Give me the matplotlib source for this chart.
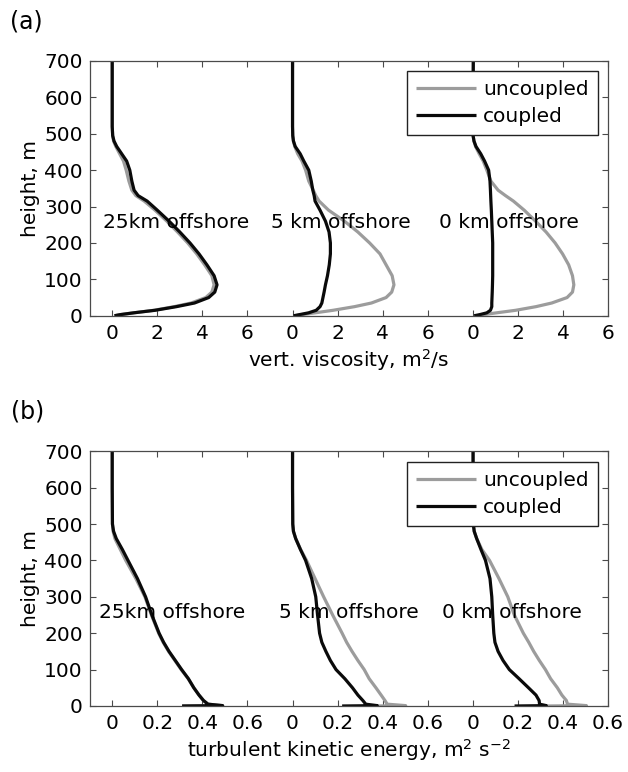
import numpy as np
import matplotlib
matplotlib.use("Agg")
import matplotlib.pyplot as plt

# ---------------- data ----------------
sites = ["25km offshore", "5 km offshore", "0 km offshore"]

# (a) vertical viscosity, m^2/s
height_a = [0, 3, 8, 15, 25, 35, 50, 65, 85, 110, 140, 170, 200, 230, 260,
            290, 315, 330, 345, 370, 400, 425, 445, 465, 480, 495, 520, 600, 700]
visc_unc_25 = [0.1, 0.35, 0.95, 1.85, 2.75, 3.5, 4.15, 4.42, 4.52, 4.42, 4.1, 3.75, 3.35, 2.9, 2.42,
               1.9, 1.42, 1.05, 0.87, 0.74, 0.62, 0.5, 0.33, 0.16, 0.06, 0.02, 0.0, 0.0, 0.0]
visc_cpl_25 = [0.1, 0.35, 0.95, 1.9, 2.85, 3.65, 4.28, 4.55, 4.65, 4.52, 4.2, 3.85, 3.45, 3.0, 2.52,
               2.0, 1.55, 1.15, 0.97, 0.87, 0.78, 0.64, 0.42, 0.2, 0.08, 0.02, 0.0, 0.0, 0.0]
visc_unc_5 = [0.12, 0.4, 1.0, 1.8, 2.75, 3.5, 4.15, 4.4, 4.5, 4.42, 4.15, 3.88, 3.42, 2.9, 2.3,
              1.6, 1.18, 1.03, 0.92, 0.72, 0.58, 0.42, 0.23, 0.1, 0.04, 0.01, 0.0, 0.0, 0.0]
visc_cpl_5 = [0.05, 0.3, 0.71, 1.05, 1.22, 1.3, 1.35, 1.4, 1.46, 1.55, 1.63, 1.68, 1.68, 1.62, 1.46,
              1.22, 1.0, 0.96, 0.9, 0.83, 0.72, 0.5, 0.34, 0.12, 0.04, 0.01, 0.0, 0.0, 0.0]
visc_unc_0 = [0.2, 0.45, 1.05, 1.9, 2.8, 3.5, 4.18, 4.42, 4.48, 4.42, 4.25, 3.98, 3.65, 3.25, 2.78,
              2.28, 1.8, 1.45, 1.12, 0.8, 0.62, 0.46, 0.28, 0.12, 0.05, 0.01, 0.01, 0.01, 0.02]
visc_cpl_0 = [0.06, 0.3, 0.62, 0.78, 0.84, 0.84, 0.85, 0.86, 0.87, 0.88, 0.88, 0.88, 0.88, 0.86, 0.84,
              0.82, 0.8, 0.79, 0.78, 0.76, 0.7, 0.52, 0.35, 0.14, 0.05, 0.01, 0.01, 0.01, 0.02]

# (b) turbulent kinetic energy, m^2 s^-2
height_b = [0, 1, 5, 15, 30, 50, 75, 100, 125, 150, 175, 200, 250, 300, 350,
            400, 430, 460, 480, 500, 600, 700]
tke_unc_25 = [0.31, 0.49, 0.425, 0.405, 0.385, 0.362, 0.337, 0.306, 0.278, 0.25, 0.226, 0.206, 0.174, 0.145, 0.105,
              0.06, 0.036, 0.012, 0.004, 0.001, 0.0, 0.0]
tke_cpl_25 = [0.31, 0.49, 0.425, 0.405, 0.385, 0.362, 0.338, 0.308, 0.28, 0.252, 0.228, 0.208, 0.176, 0.148, 0.112,
              0.07, 0.045, 0.018, 0.006, 0.001, 0.0, 0.0]
tke_unc_5 = [0.376, 0.502, 0.42, 0.41, 0.393, 0.37, 0.34, 0.318, 0.29, 0.264, 0.24, 0.22, 0.178, 0.138, 0.1,
             0.062, 0.036, 0.014, 0.004, 0.001, 0.0, 0.0]
tke_cpl_5 = [0.22, 0.376, 0.325, 0.312, 0.29, 0.266, 0.232, 0.193, 0.168, 0.148, 0.13, 0.12, 0.111, 0.103, 0.085,
             0.058, 0.035, 0.014, 0.004, 0.001, 0.0, 0.0]
tke_unc_0 = [0.326, 0.504, 0.42, 0.415, 0.395, 0.375, 0.345, 0.322, 0.295, 0.27, 0.248, 0.224, 0.184, 0.155, 0.116,
             0.074, 0.04, 0.017, 0.006, 0.002, 0.001, 0.001]
tke_cpl_0 = [0.185, 0.326, 0.296, 0.294, 0.28, 0.247, 0.205, 0.162, 0.134, 0.112, 0.098, 0.093, 0.088, 0.084, 0.076,
             0.056, 0.036, 0.017, 0.006, 0.002, 0.001, 0.001]

tick_labels_a = ["0", "2", "4", "6"]
tick_labels_b = ["0", "0.2", "0.4", "0.6"]

# ---------------- style ----------------
plt.rcParams["font.family"] = ["DejaVu Sans"]
FS = 14.5
GREY = "#9c9c9c"
BLACK = "#0a0a0a"
AXCOL = "#4a4a4a"

fig = plt.figure(figsize=(6.28, 7.72), dpi=100)
ax_a = fig.add_axes([0.1428, 0.591, 0.8255, 0.330])
ax_b = fig.add_axes([0.1428, 0.0855, 0.8255, 0.330])


def draw_panel(ax, height, profiles, step, labels, xlabel, label_pos):
    n = len(labels)
    span = step * (n - 1)   # width of one profile's own scale
    shift = step * n        # distance between profile origins
    for i, (unc, cpl) in enumerate(profiles):
        off = i * shift
        ax.plot(np.asarray(unc) + off, height, color=GREY, lw=2.3,
                label="uncoupled" if i == 0 else None, solid_capstyle="butt")
        ax.plot(np.asarray(cpl) + off, height, color=BLACK, lw=2.3,
                label="coupled" if i == 0 else None, solid_capstyle="butt")
    for (x, y), name in zip(label_pos, sites):
        ax.text(x, y, name, fontsize=FS, ha="left", va="center")
    ticks = np.round(np.arange(0, 3 * shift - step / 2 + 1e-9, step), 6)
    ax.set_xticks(ticks)
    ax.set_xticklabels(labels * 3)
    ax.set_xlim(-step / 2, 2 * shift + span)
    ax.set_ylim(0, 700)
    ax.set_yticks(np.arange(0, 701, 100))
    ax.set_ylabel("height, m", fontsize=FS, labelpad=3)
    ax.set_xlabel(xlabel, fontsize=FS, labelpad=3)
    ax.tick_params(direction="in", top=True, right=True, length=4.3, width=0.8,
                   color=AXCOL, labelsize=FS)
    ax.tick_params(axis="x", pad=6)
    ax.tick_params(axis="y", pad=5)
    for sp in ax.spines.values():
        sp.set_color(AXCOL)
        sp.set_linewidth(0.9)
    leg = ax.legend(loc="upper right", bbox_to_anchor=(0.980, 0.9596), borderaxespad=0,
                    fancybox=False, framealpha=1, edgecolor="#222222", fontsize=FS,
                    handlelength=3.0, handletextpad=0.35, borderpad=0.45, labelspacing=0.4)
    leg.get_frame().set_linewidth(1.0)


draw_panel(ax_a, height_a,
           [(visc_unc_25, visc_cpl_25), (visc_unc_5, visc_cpl_5), (visc_unc_0, visc_cpl_0)],
           2, tick_labels_a, r"vert. viscosity, m$^2$/s",
           [(-0.39, 257), (7.04, 257), (14.49, 257)])
draw_panel(ax_b, height_b,
           [(tke_unc_25, tke_cpl_25), (tke_unc_5, tke_cpl_5), (tke_unc_0, tke_cpl_0)],
           0.2, tick_labels_b, r"turbulent kinetic energy, m$^2$ s$^{-2}$",
           [(-0.06, 256), (0.742, 256), (1.461, 256)])

fig.text(0.016, 1 - 22 / 772, "(a)", fontsize=17, va="center", ha="left")
fig.text(0.018, 1 - 412 / 772, "(b)", fontsize=17, va="center", ha="left")

fig.savefig("out.png", dpi=100)
